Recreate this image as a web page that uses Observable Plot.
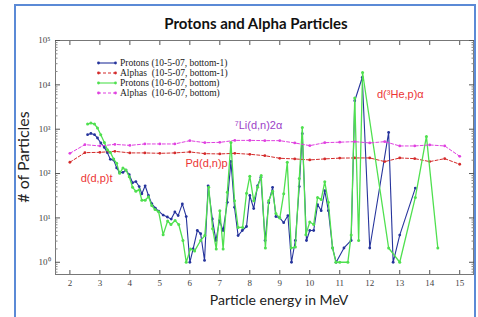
<!DOCTYPE html>
<html><head><meta charset="utf-8">
<script src="https://cdn.jsdelivr.net/npm/d3@7"></script>
<script src="https://cdn.jsdelivr.net/npm/@observablehq/plot@0.6"></script>
<style>
body{margin:0;background:#fff;}
#wrap{position:relative;width:478px;height:317px;overflow:hidden;background:#fff;}
#border{position:absolute;left:14px;top:4px;width:458px;height:340px;border:2px solid #5b8ad6;}
#chart{position:absolute;left:0;top:0;}
#title{position:absolute;left:0;top:14px;width:512px;text-align:center;font:bold 15px Lato,sans-serif;color:#111;}
#xlabel{position:absolute;left:0;top:291px;width:558px;text-align:center;font:14px Lato,sans-serif;color:#222;}
#ylabel{position:absolute;left:22px;top:157px;transform:translate(-50%,-50%) rotate(-90deg);font:16px Lato,sans-serif;color:#222;white-space:nowrap;}
#legend{position:absolute;left:97px;top:58px;font:9.5px "Liberation Serif",serif;color:#222;line-height:10px;}
#legend div{display:flex;align-items:center;white-space:pre;height:10px;}
#legend svg{margin-right:3px;}
</style></head>
<body>
<div id="wrap">
<div id="chart"></div>
<div id="border"></div>
<div id="title">Protons and Alpha Particles</div>
<div id="xlabel">Particle energy in MeV</div>
<div id="ylabel"># of Particles</div>
<div id="legend"></div>
</div>
<script>
// ---- data ----
const seriesNames = ["Protons (10-5-07, bottom-1)", "Alphas  (10-5-07, bottom-1)", "Protons (10-6-07, bottom)", "Alphas  (10-6-07, bottom)"];
const seriesColors = ["#26349c", "#d42a2a", "#4fe04f", "#e040e0"];

const protons1E = [2.59,2.70,2.82,2.92,3.03,3.15,3.25,3.35,3.46,3.56,3.66,3.77,3.87,3.98,4.09,4.20,4.31,4.40,4.51,4.62,4.73,4.85,4.96,5.11,5.25,5.38,5.50,5.61,5.75,5.88,6.00,6.11,6.25,6.36,6.49,6.61,6.75,6.87,6.99,7.11,7.25,7.37,7.49,7.61,7.75,7.89,8.00,8.13,8.26,8.37,8.51,8.63,8.76,8.87,8.99,9.13,9.27,9.39,9.52,9.65,9.75,9.89,10.00,10.13,10.26,10.38,10.50,10.62,10.76,10.88,11.14,11.38,11.50,11.75,12.00,12.63,12.78,13.00,13.52];
const protons1N = [752,804,752,634,489,389,296,209,202,134,106,106,120,94,62,66,51,35,53,32,21,16.6,14.2,11.6,10.5,9.4,13.6,11.3,20.7,10.7,1,2.0,5.2,4.4,1.1,53,9.5,3.1,8.7,5.2,22.5,188,17.3,4.0,5.2,6.4,32,16.2,53,83,3.1,22,49,10.7,10.2,7.8,11.3,1,3.1,51,792,3.1,5.2,5.2,20,14.6,41,14.6,2.1,1,2.1,3.1,4385,14680,2.1,847,1,4.1,47];

const protons2E = [2.59,2.70,2.82,2.92,3.03,3.15,3.25,3.35,3.46,3.56,3.66,3.77,3.87,3.98,4.09,4.20,4.31,4.40,4.51,4.62,4.73,4.84,4.96,5.11,5.26,5.37,5.51,5.63,5.77,5.88,6.02,6.16,6.36,6.50,6.63,6.76,6.88,7.00,7.11,7.25,7.37,7.49,7.61,7.76,7.89,8.00,8.13,8.26,8.38,8.52,8.63,8.76,8.87,9.00,9.13,9.25,9.38,9.52,9.65,9.75,9.87,10.00,10.13,10.26,10.38,10.50,10.62,10.76,10.87,11.00,11.27,11.38,11.50,11.63,11.76,12.63,13.00,13.52,13.89,14.27];
const protons2N = [1309,1380,1309,1064,752,504,345,300,213,170,101,134,120,85,49,40,43,25,25,30,19,15.4,13.7,4.2,8.5,7.1,8.7,7.1,3.1,1,2.0,1.8,3.1,4.0,49,5.7,2.0,14.6,2.0,38,504,24.5,6.1,6.1,36,87,24.5,49,90,2.1,24.5,40,12.5,9.9,35,179,2.1,2.2,77,1098,4.2,8.1,7.1,29,26,65,22.5,2.1,1,1,1,4.1,5045,3.1,19000,2.1,1,29,688,2.1];

const alphaE = [2,2.5,3,3.5,4,4.5,5,5.5,6,6.5,7,7.5,8,8.5,9,9.5,10,10.5,11,11.5,12,12.5,13,13.5,14,14.5,15];
const alphas1N = [180,296,301,317,292,292,286,292,307,281,277,286,272,253,221,214,203,214,223,225,225,186,225,217,186,217,162];
const alphas2N = [286,449,419,455,432,465,465,465,552,497,505,560,560,552,552,490,426,497,510,524,490,524,419,419,442,419,245];

const xTicks = [2,3,4,5,6,7,8,9,10,11,12,13,14,15];
const yMajor = [1,10,100,1000,10000,100000];
const yMinor = [0.6,0.7,0.8,0.9,2,3,4,5,6,7,8,9,20,30,40,50,60,70,80,90,200,300,400,500,600,700,800,900,2000,3000,4000,5000,6000,7000,8000,9000,20000,30000,40000,50000,60000,70000,80000,90000];
const supDigits = ["⁰","¹","²","³","⁴","⁵"];

const noteText = ["d(d,p)t", "Pd(d,n)p", "⁷Li(d,n)2α", "d(³He,p)α"];
const noteE = [2.89, 6.56, 8.29, 13.02];
const noteN = [77, 170, 1200, 6200];
const noteColor = ["#ec3434", "#ec3434", "#9c3fc8", "#ec3434"];

// ---- build ----
const rows = (E, N) => E.map((e, i) => ({e, n: N[i]}));
const p1 = rows(protons1E, protons1N);
const p2 = rows(protons2E, protons2N);
const a1 = rows(alphaE, alphas1N);
const a2 = rows(alphaE, alphas2N);
const notes = noteText.map((t, i) => ({t, e: noteE[i], n: noteN[i], c: noteColor[i]}));

const serif = "'Liberation Serif', 'Times New Roman', serif";
const tickStroke = "#555";

const plot = Plot.plot({
  width: 478, height: 317,
  marginLeft: 55, marginRight: 5, marginTop: 40, marginBottom: 43,
  style: {background: "transparent", overflow: "visible"},
  x: {domain: [1.52, 15.46]},
  y: {type: "log", domain: [0.53, 100000]},
  marks: [
    Plot.frame({stroke: "#777"}),
    Plot.axisX(xTicks, {anchor: "bottom", tickSize: -4, fill: "none", stroke: tickStroke, label: null}),
    Plot.axisX(xTicks, {anchor: "top", tickSize: -4, fill: "none", stroke: tickStroke, label: null}),
    Plot.axisX(xTicks, {anchor: "bottom", tickSize: 0, tickPadding: 5, fill: "#444", fontFamily: serif, fontSize: 9, label: null, tickFormat: d => String(d)}),
    Plot.axisY(yMajor, {anchor: "left", tickSize: -5, fill: "none", stroke: tickStroke, label: null}),
    Plot.axisY(yMajor, {anchor: "right", tickSize: -5, fill: "none", stroke: tickStroke, label: null}),
    Plot.axisY(yMinor, {anchor: "left", tickSize: -2.5, fill: "none", stroke: "#888", label: null}),
    Plot.axisY(yMinor, {anchor: "right", tickSize: -2.5, fill: "none", stroke: "#888", label: null}),
    Plot.axisY(yMajor, {anchor: "left", tickSize: 0, tickPadding: 5, fill: "#444", fontFamily: serif, fontSize: 9, label: null, tickFormat: d => "10" + supDigits[Math.round(Math.log10(d))]}),
    Plot.line(p1, {x: "e", y: "n", stroke: seriesColors[0], strokeWidth: 1.1}),
    Plot.dot(p1, {x: "e", y: "n", fill: seriesColors[0], r: 1.4}),
    Plot.line(a1, {x: "e", y: "n", stroke: seriesColors[1], strokeWidth: 1, strokeDasharray: "3,2"}),
    Plot.dot(a1, {x: "e", y: "n", fill: seriesColors[1], r: 1.4}),
    Plot.line(p2, {x: "e", y: "n", stroke: seriesColors[2], strokeWidth: 1.3}),
    Plot.dot(p2, {x: "e", y: "n", fill: seriesColors[2], r: 1.5}),
    Plot.line(a2, {x: "e", y: "n", stroke: seriesColors[3], strokeWidth: 1, strokeDasharray: "3,2"}),
    Plot.dot(a2, {x: "e", y: "n", fill: seriesColors[3], r: 1.4}),
    Plot.text(notes, {x: "e", y: "n", text: "t", fill: "c", fontFamily: "'Liberation Sans Narrow', 'Liberation Sans', Arial, sans-serif", fontSize: 11})
  ]
});
document.getElementById("chart").appendChild(plot);

// legend
const dashes = [null, "3,2", null, "3,2"];
const leg = document.getElementById("legend");
seriesNames.forEach((name, i) => {
  const row = document.createElement("div");
  const dash = dashes[i] ? `stroke-dasharray="${dashes[i]}"` : "";
  row.innerHTML = `<svg width="20" height="6"><line x1="1" y1="3" x2="19" y2="3" stroke="${seriesColors[i]}" stroke-width="1.1" ${dash}/><circle cx="1.5" cy="3" r="1.4" fill="${seriesColors[i]}"/><circle cx="18.5" cy="3" r="1.4" fill="${seriesColors[i]}"/></svg><span></span>`;
  row.querySelector("span").textContent = name;
  leg.appendChild(row);
});
</script>
</body></html>
